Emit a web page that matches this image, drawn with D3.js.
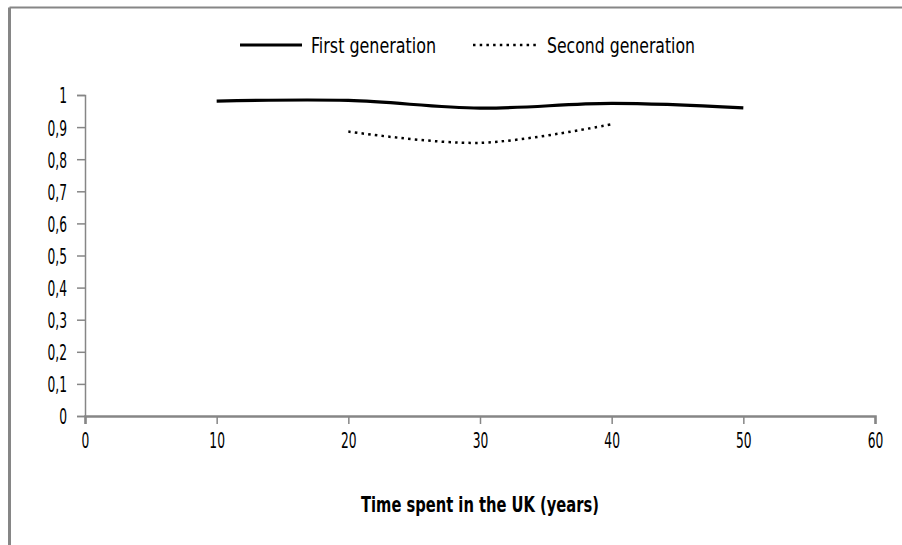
<!DOCTYPE html>
<html>
<head>
<meta charset="utf-8">
<script src="https://cdn.jsdelivr.net/npm/d3@7"></script>
<style>
  body { margin: 0; background: #fff; }
  text { font-family: "Liberation Sans Narrow", "DejaVu Sans Condensed", "DejaVu Sans", sans-serif; }
</style>
</head>
<body>
<svg id="chart" width="902" height="545"></svg>
<script>
const years = [10, 20, 30, 40, 50];
const firstGen = [0.981, 0.983, 0.959, 0.974, 0.960];
const secondYears = [20, 30, 40];
const secondGen = [0.886, 0.851, 0.909];
const yTickLabels = ['0', '0,1', '0,2', '0,3', '0,4', '0,5', '0,6', '0,7', '0,8', '0,9', '1'];
const xTickValues = [0, 10, 20, 30, 40, 50, 60];

const AXIS_COLOR = '#868686';
const SQUEEZE = 0.62; // the original font is tall and narrow

const svg = d3.select('#chart');

// outer frame (only the left and top edges are in the picture)
svg.append('line').attr('x1', 9.5).attr('x2', 902).attr('y1', 7.5).attr('y2', 7.5)
  .attr('stroke', AXIS_COLOR).attr('stroke-width', 2);
svg.append('line').attr('x1', 9.5).attr('x2', 9.5).attr('y1', 7.5).attr('y2', 545)
  .attr('stroke', AXIS_COLOR).attr('stroke-width', 3);

const x = d3.scaleLinear().domain([0, 60]).range([85, 875]);
const y = d3.scaleLinear().domain([0, 1]).range([416, 95]);

// y axis
const yAxis = svg.append('g').attr('transform', 'translate(' + x(0) + ',0)')
  .call(d3.axisLeft(y).tickValues(d3.range(11).map(i => i / 10))
    .tickFormat((d, i) => yTickLabels[i]).tickSizeOuter(0).tickSize(8));
yAxis.select('.domain').attr('stroke', AXIS_COLOR).attr('stroke-width', 1.5);
yAxis.selectAll('.tick line').attr('stroke', AXIS_COLOR).attr('stroke-width', 1.5);
yAxis.selectAll('.tick text')
  .attr('font-size', 22).attr('fill', '#000')
  .attr('x', -18 / SQUEEZE).attr('dy', '0.36em')
  .attr('transform', 'scale(' + SQUEEZE + ',1)')
  .style('font-family', null);

// x axis
const xAxis = svg.append('g').attr('transform', 'translate(0,' + y(0) + ')')
  .call(d3.axisBottom(x).tickValues(xTickValues).tickSizeOuter(0).tickSize(8));
xAxis.select('.domain').attr('stroke', AXIS_COLOR).attr('stroke-width', 2.5);
xAxis.selectAll('.tick line').attr('stroke', AXIS_COLOR).attr('stroke-width', 1.5);
xAxis.selectAll('.tick text')
  .attr('font-size', 22).attr('fill', '#000')
  .attr('y', 32).attr('dy', 0)
  .attr('transform', 'scale(' + SQUEEZE + ',1)')
  .style('font-family', null);

// x axis title
svg.append('text').attr('x', x(30)).attr('y', 512).attr('text-anchor', 'middle')
  .attr('font-size', 22).attr('font-weight', 'bold')
  .attr('textLength', 238).attr('lengthAdjust', 'spacingAndGlyphs')
  .text('Time spent in the UK (years)');

const line = d3.line()
  .x(d => x(d[0]))
  .y(d => y(d[1]))
  .curve(d3.curveCatmullRom.alpha(0.5));

svg.append('path')
  .datum(years.map((yr, i) => [yr, firstGen[i]]))
  .attr('d', line)
  .attr('fill', 'none').attr('stroke', '#000').attr('stroke-width', 3.2);

svg.append('path')
  .datum(secondYears.map((yr, i) => [yr, secondGen[i]]))
  .attr('d', line)
  .attr('fill', 'none').attr('stroke', '#000').attr('stroke-width', 2.5)
  .attr('stroke-dasharray', '2.5,4.2');

// legend
const legend = svg.append('g');
legend.append('line').attr('x1', 240).attr('x2', 302).attr('y1', 45).attr('y2', 45)
  .attr('stroke', '#000').attr('stroke-width', 3.2);
legend.append('text').attr('x', 311).attr('y', 53).attr('font-size', 22)
  .attr('textLength', 125).attr('lengthAdjust', 'spacingAndGlyphs')
  .text('First generation');
legend.append('line').attr('x1', 473).attr('x2', 537).attr('y1', 45).attr('y2', 45)
  .attr('stroke', '#000').attr('stroke-width', 2.5).attr('stroke-dasharray', '2.5,4.2');
legend.append('text').attr('x', 547).attr('y', 53).attr('font-size', 22)
  .attr('textLength', 148).attr('lengthAdjust', 'spacingAndGlyphs')
  .text('Second generation');
</script>
</body>
</html>
